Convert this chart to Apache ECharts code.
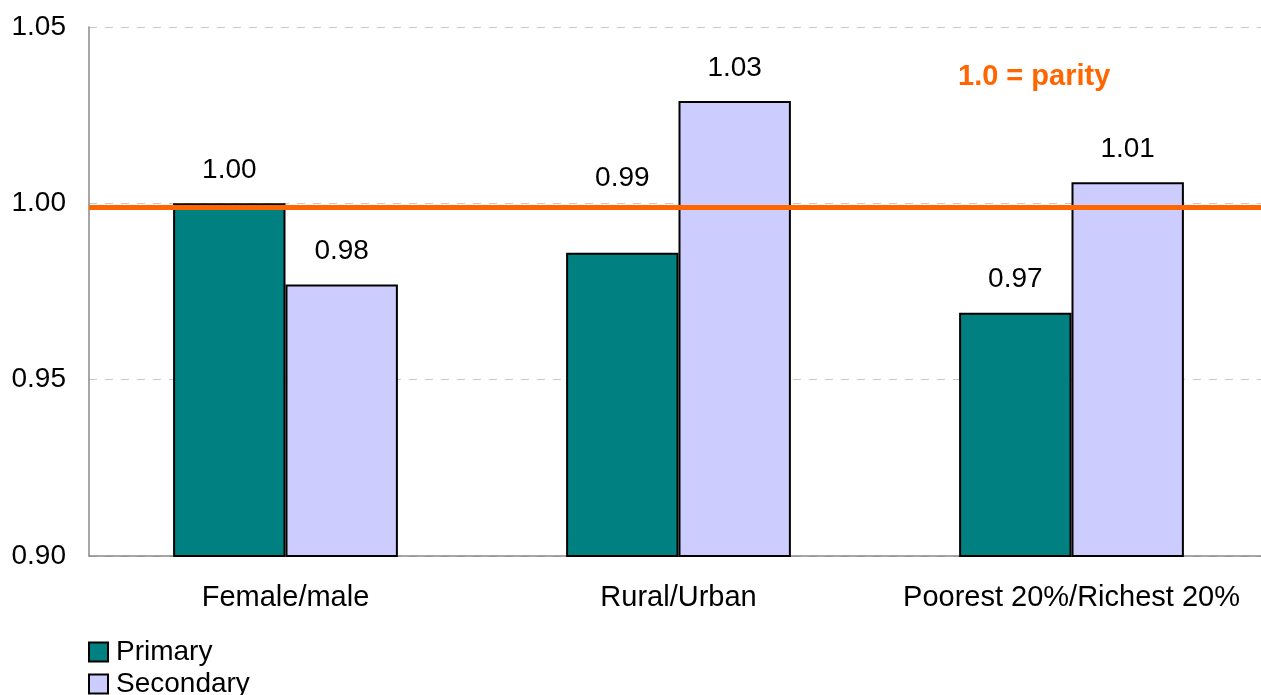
<!DOCTYPE html>
<html><head><meta charset="utf-8">
<script src="https://cdn.jsdelivr.net/npm/echarts@6/dist/echarts.min.js"></script>
<style>html,body{margin:0;padding:0;background:#fff}#c{width:1261px;height:695px}</style>
</head><body><div id="c"></div>
<script>
const categories = ['Female/male', 'Rural/Urban', 'Poorest 20%/Richest 20%'];
const primary = [1.000, 0.986, 0.969];
const secondary = [0.977, 1.029, 1.006];
const parity = 0.999;
const yTicks = [0.90, 0.95, 1.00, 1.05];

const font = 'Liberation Sans, Arial, sans-serif';
const labelBase = { show: true, position: 'top', distance: 19, fontSize: 28, color: '#000',
  fontFamily: font, formatter: p => p.value.toFixed(2) };
// the Rural primary label sits higher in the original to clear the parity line
const primaryData = primary.map((v, i) => i === 1 ? { value: v, label: { distance: 60 } } : v);

const chart = echarts.init(document.getElementById('c'));
chart.setOption({
  animation: false,
  textStyle: { fontFamily: font },
  grid: { left: 89, right: -7, top: 27, bottom: 139, outerBoundsMode: 'none', containLabel: false },
  legend: {
    orient: 'vertical', left: 88, top: 638, height: 120, padding: 0,
    itemWidth: 19, itemHeight: 19, itemGap: 4,
    icon: 'rect',
    itemStyle: { borderColor: '#000', borderWidth: 2 },
    textStyle: { fontSize: 28, lineHeight: 28, color: '#000', fontFamily: font, padding: [0, 0, 0, 3] },
    data: ['Primary', 'Secondary']
  },
  xAxis: {
    type: 'category', data: categories,
    axisLine: { lineStyle: { color: '#888', width: 1.5 } },
    axisTick: { show: false },
    axisLabel: { fontSize: 29, color: '#000', margin: 27, fontFamily: font, interval: 0 }
  },
  yAxis: {
    type: 'value', min: yTicks[0], max: yTicks[yTicks.length - 1], interval: 0.05,
    axisLine: { show: true, lineStyle: { color: '#888', width: 1.5 } },
    axisTick: { show: false },
    splitLine: { lineStyle: { color: '#c8c8c8', type: [8, 8], width: 1 } },
    axisLabel: { fontSize: 28, color: '#000', margin: 23, fontFamily: font,
      formatter: v => v.toFixed(2) }
  },
  series: [
    {
      name: 'Primary', type: 'bar', data: primaryData, barWidth: '28.6%', barGap: '0%',
      itemStyle: { color: '#008080', borderColor: '#000', borderWidth: 2 },
      label: labelBase,
      markLine: {
        symbol: 'none', silent: true, precision: 4,
        lineStyle: { color: '#FF6600', width: 5, type: 'solid' },
        label: { show: false },
        data: [{ yAxis: parity }]
      }
    },
    {
      name: 'Secondary', type: 'bar', data: secondary, barWidth: '28.6%', barGap: '0%',
      itemStyle: { color: '#CCCCFF', borderColor: '#000', borderWidth: 2 },
      label: labelBase
    }
  ],
  graphic: [{
    type: 'text', left: 958, top: 62,
    style: { text: '1.0 = parity', fill: '#FF6600', font: 'bold 29px ' + font }
  }]
});
</script></body></html>
